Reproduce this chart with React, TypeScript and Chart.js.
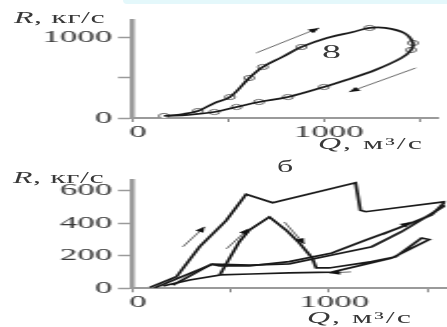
import { useEffect, useRef } from 'react';
import { Chart, registerables } from 'chart.js';

Chart.register(...registerables);

// ---------- shared axes ----------
const xTickValues = [0, 500, 1000, 1500];
const xTickLabels = ['0', '', '1000', ''];
const X_MAX = 1593;

// ---------- top panel ----------
const topYTickValues = [0, 500, 1000];
const topYTickLabels = ['0', '', '1000'];
const TOP_Y_MAX = 1210;

const topLoopQ = [162, 264, 340, 426, 508, 609, 680, 782, 883, 1015, 1152, 1239, 1320, 1421, 1467, 1457, 1406, 1269, 1117, 1000, 812, 660, 543, 426, 289, 173];
const topLoopR = [25, 49, 86, 185, 259, 494, 630, 753, 877, 988, 1062, 1112, 1112, 1050, 926, 840, 741, 593, 469, 383, 259, 198, 136, 74, 37, 25];

const topMarkQ = [162, 340, 508, 609, 680, 883, 1239, 1467, 1457, 1000, 812, 660, 543, 426];
const topMarkR = [25, 86, 259, 494, 630, 877, 1112, 926, 840, 383, 259, 198, 136, 74];

const topArrowUpQ = [645, 975];
const topArrowUpR = [803, 1112];
const topArrowDownQ = [1482, 1132];
const topArrowDownR = [618, 321];

// ---------- bottom panel ----------
const botYTickValues = [0, 200, 400, 600];
const botYTickLabels = ['0', '200', '400', '600'];
const BOT_Y_MAX = 666;

const botAQ = [86, 222, 340, 476, 577, 712, 1135, 1160, 1186, 1592, 1523, 1355, 1188, 1015, 797, 594, 442, 400, 203];
const botAR = [6, 71, 256, 418, 578, 526, 649, 480, 471, 533, 451, 371, 297, 217, 164, 138, 138, 148, 20];

const botBQ = [152, 289, 442, 543, 594, 695, 780, 848, 914, 934, 1000, 1218, 1340, 1472, 1510, 1320, 1015, 797, 600, 442];
const botBR = [14, 51, 82, 287, 359, 438, 359, 279, 186, 125, 125, 164, 194, 309, 300, 186, 100, 95, 88, 82];

const botCQ = [110, 406, 600, 797, 1015, 1218, 1370, 1592];
const botCR = [3, 149, 143, 150, 205, 256, 348, 510];

const botArrow1Q = [254, 365];
const botArrow1R = [255, 378];
const botArrow2Q = [477, 589];
const botArrow2R = [243, 366];
const botArrow3Q = [772, 873];
const botArrow3R = [408, 273];
const botArrow4Q = [1279, 1416];
const botArrow4R = [329, 408];
const botArrow5Q = [1112, 1000];
const botArrow5R = [101, 94];

// ---------- layout helpers ----------
const LW = 224; // logical width, stretched to 447
const SX = 447 / LW;
const L = (px: number) => px / SX;
const FONT = "'Liberation Serif', 'DejaVu Serif', serif";
const TXT = '#383838';
const TICK_FONT = 17.5;

const xy = (qs: number[], rs: number[]) => qs.map((q, i) => ({ x: q, y: rs[i] }));

const lineDs = (qs: number[], rs: number[], extra: any = {}) => ({
  data: xy(qs, rs),
  showLine: true,
  pointRadius: 0,
  borderColor: '#1a1a1a',
  borderWidth: 1.7,
  tension: 0,
  ...extra,
});

const arrowDs = (qs: number[], rs: number[]) => ({
  data: xy(qs, rs),
  showLine: true,
  pointRadius: 0,
  borderColor: '#6a6a6a',
  borderWidth: 1,
  tension: 0,
  arrow: true,
});

const arrowPlugin = {
  id: 'arrowHeads',
  afterDatasetsDraw(chart: any) {
    const ctx = chart.ctx;
    chart.data.datasets.forEach((ds: any, i: number) => {
      if (!ds.arrow) return;
      const pts = chart.getDatasetMeta(i).data;
      if (pts.length < 2) return;
      const a = pts[pts.length - 2];
      const b = pts[pts.length - 1];
      const ang = Math.atan2(b.y - a.y, b.x - a.x);
      ctx.save();
      ctx.translate(b.x, b.y);
      ctx.rotate(ang);
      ctx.beginPath();
      ctx.moveTo(0, 0);
      ctx.lineTo(-5.5, -2.3);
      ctx.lineTo(-5.5, 2.3);
      ctx.closePath();
      ctx.fillStyle = '#111';
      ctx.fill();
      ctx.restore();
    });
  },
};

function makeScales(yMax: number, yVals: number[], yLabels: string[], xHeight: number) {
  return {
    x: {
      type: 'linear',
      min: 0,
      max: X_MAX,
      afterBuildTicks: (s: any) => {
        s.ticks = xTickValues.map((v) => ({ value: v }));
      },
      afterFit: (s: any) => {
        s.height = xHeight;
      },
      ticks: {
        autoSkip: false,
        maxRotation: 0,
        padding: 0,
        labelOffset: 2.5,
        color: TXT,
        font: { family: FONT, size: TICK_FONT },
        callback: (_v: any, i: number) => xTickLabels[i],
      },
      grid: { drawOnChartArea: false, drawTicks: true, tickLength: 4, tickColor: '#8a8a8a', tickWidth: 1 },
      border: { display: true, color: '#9a9a9a', width: 2 },
    },
    y: {
      type: 'linear',
      min: 0,
      max: yMax,
      afterBuildTicks: (s: any) => {
        s.ticks = yVals.map((v) => ({ value: v }));
      },
      afterFit: (s: any) => {
        s.width = L(133);
      },
      ticks: {
        autoSkip: false,
        padding: 3,
        color: TXT,
        font: { family: FONT, size: TICK_FONT },
        callback: (_v: any, i: number) => yLabels[i],
      },
      grid: { drawOnChartArea: false, drawTicks: true, tickLength: 7.5, tickColor: '#9a9a9a', tickWidth: 1.5 },
      border: { display: true, color: '#9a9a9a', width: 2.5 },
    },
  };
}

function baseOptions(padTop: number, scales: any) {
  return {
    responsive: true,
    maintainAspectRatio: false,
    animation: false,
    events: [],
    layout: { padding: { top: padTop, left: 0, right: 0, bottom: 0 } },
    plugins: { legend: { display: false }, tooltip: { enabled: false }, title: { display: false } },
    scales,
  };
}

export default function App() {
  const topRef = useRef<HTMLCanvasElement>(null);
  const botRef = useRef<HTMLCanvasElement>(null);

  useEffect(() => {
    const top = new Chart(topRef.current as HTMLCanvasElement, {
      type: 'scatter',
      data: {
        datasets: [
          lineDs(topLoopQ, topLoopR, { tension: 0.35 }),
          {
            data: xy(topMarkQ, topMarkR),
            showLine: false,
            pointRadius: 2.6,
            pointBackgroundColor: '#ffffff',
            pointBorderColor: '#707070',
            pointBorderWidth: 1,
          },
          arrowDs(topArrowUpQ, topArrowUpR),
          arrowDs(topArrowDownQ, topArrowDownR),
        ],
      } as any,
      options: baseOptions(20, makeScales(TOP_Y_MAX, topYTickValues, topYTickLabels, 47)) as any,
      plugins: [arrowPlugin],
    });
    const bot = new Chart(botRef.current as HTMLCanvasElement, {
      type: 'scatter',
      data: {
        datasets: [
          lineDs(botAQ, botAR),
          lineDs(botBQ, botBR),
          lineDs(botCQ, botCR),
          arrowDs(botArrow1Q, botArrow1R),
          arrowDs(botArrow2Q, botArrow2R),
          arrowDs(botArrow3Q, botArrow3R),
          arrowDs(botArrow4Q, botArrow4R),
          arrowDs(botArrow5Q, botArrow5R),
        ],
      } as any,
      options: baseOptions(15, makeScales(BOT_Y_MAX, botYTickValues, botYTickLabels, 38.7)) as any,
      plugins: [arrowPlugin],
    });
    return () => {
      top.destroy();
      bot.destroy();
    };
  }, []);

  const txt = (left: number, top: number, extra: any = {}) => ({
    position: 'absolute' as const,
    left,
    top,
    fontFamily: FONT,
    fontSize: 16,
    lineHeight: '16px',
    color: TXT,
    whiteSpace: 'nowrap' as const,
    letterSpacing: '0.3px',
    ...extra,
  });

  return (
    <div style={{ position: 'absolute', left: 0, top: 0, width: 447, height: 327, overflow: 'hidden', background: '#fff' }}>
      <div
        style={{
          position: 'absolute',
          left: 123,
          top: 0,
          width: 324,
          height: 4,
          background: '#e4f8fb',
          borderBottomLeftRadius: 24,
        }}
      />
      <div
        style={{
          position: 'absolute',
          left: 0,
          top: 0,
          width: LW,
          height: 327,
          transform: `scale(${SX}, 1)`,
          transformOrigin: '0 0',
        }}
      >
        <div style={{ position: 'absolute', left: 0, top: 0, width: LW, height: 165 }}>
          <canvas ref={topRef} />
        </div>
        <div style={{ position: 'absolute', left: 0, top: 165, width: LW, height: 162 }}>
          <canvas ref={botRef} />
        </div>
        <span style={txt(L(14), 9.5)}>
          <i>R</i>, кг/с
        </span>
        <span style={txt(L(318), 135.5, { letterSpacing: '1px' })}>
          <i>Q</i>, м³/с
        </span>
        <span style={txt(L(322), 42, { fontSize: 19, lineHeight: '19px' })}>8</span>
        <span style={txt(L(277), 159)}>б</span>
        <span style={txt(L(13), 169.5)}>
          <i>R</i>, кг/с
        </span>
        <span style={txt(L(307), 309.5, { letterSpacing: '1px' })}>
          <i>Q</i>, м³/с
        </span>
      </div>
    </div>
  );
}
